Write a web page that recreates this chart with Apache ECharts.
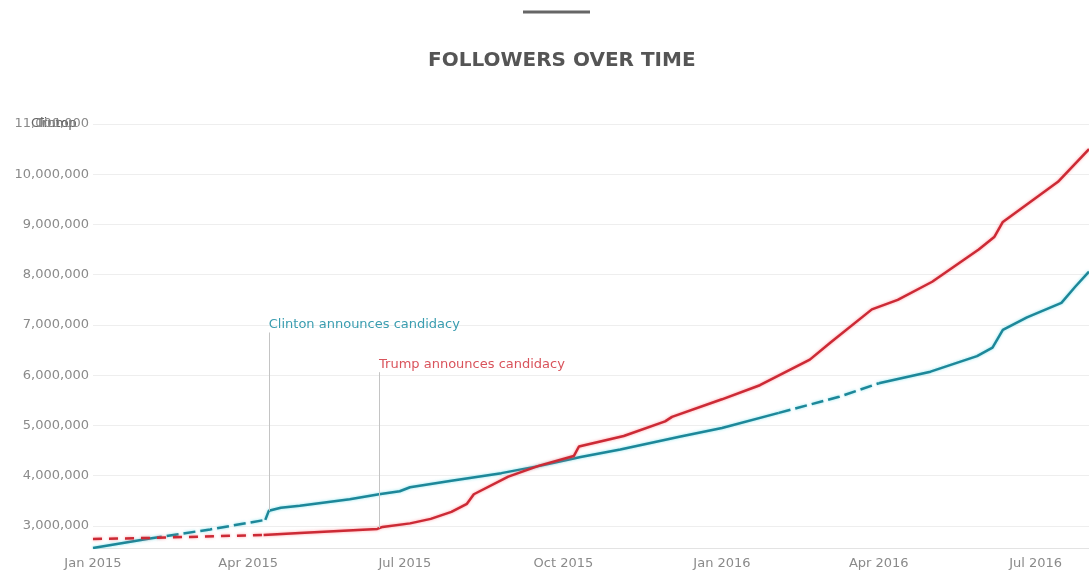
<!DOCTYPE html>
<html>
<head>
<meta charset="utf-8">
<title>Followers over time</title>
<script src="https://cdn.jsdelivr.net/npm/echarts@6/dist/echarts.min.js"></script>
<style>
  html, body { margin: 0; padding: 0; background: #fff; }
  #chart { width: 1089px; height: 575px; }
</style>
</head>
<body>
<div id="chart"></div>
<script>
/** followers chart start */

// Clinton followers
var clintonDates = [
    '2015-01-01', '2015-02-03', '2015-03-10', '2015-04-11', '2015-04-13', '2015-04-20',
    '2015-05-01', '2015-05-30', '2015-06-16', '2015-06-28', '2015-07-04', '2015-07-28',
    '2015-08-26', '2015-09-18', '2015-10-11', '2015-11-03', '2015-12-08', '2016-01-01',
    '2016-02-03', '2016-03-09', '2016-04-01', '2016-05-01', '2016-05-28', '2016-06-06',
    '2016-06-12', '2016-06-26', '2016-07-16', '2016-07-24', '2016-08-01'
];
var clintonValues = [
    2560000, 2750000, 2930000, 3120000, 3300000, 3360000,
    3400000, 3530000, 3630000, 3690000, 3770000, 3900000,
    4050000, 4200000, 4370000, 4520000, 4780000, 4950000,
    5250000, 5570000, 5840000, 6070000, 6380000, 6550000,
    6900000, 7150000, 7440000, 7760000, 8060000
];
// stretches where the Clinton line is drawn broken
var clintonGaps = [['2015-02-03', '2015-04-11'], ['2016-02-03', '2016-04-01']];

// Trump followers
var trumpDates = [
    '2015-01-01', '2015-02-03', '2015-04-10', '2015-05-01', '2015-06-15', '2015-06-18',
    '2015-07-04', '2015-07-16', '2015-07-28', '2015-08-06', '2015-08-10', '2015-08-30',
    '2015-09-17', '2015-10-07', '2015-10-10', '2015-11-05', '2015-11-29', '2015-12-03',
    '2016-01-01', '2016-01-23', '2016-02-21', '2016-03-04', '2016-03-28', '2016-04-12',
    '2016-05-02', '2016-05-29', '2016-06-07', '2016-06-12', '2016-07-14', '2016-08-01'
];
var trumpValues = [
    2740000, 2760000, 2820000, 2860000, 2940000, 2980000,
    3050000, 3140000, 3280000, 3440000, 3630000, 3980000,
    4200000, 4390000, 4580000, 4790000, 5080000, 5170000,
    5520000, 5800000, 6310000, 6650000, 7310000, 7500000,
    7860000, 8500000, 8750000, 9050000, 9850000, 10500000
];
var trumpGaps = [['2015-01-01', '2015-04-10']];

// annotations: date, value on line, top of the marker line
var clintonEvent = ['2015-04-13', 3300000, 6850000];
var trumpEvent = ['2015-06-16', 2960000, 6060000];

var tickLabels = ['2015-01-01', '2015-04-01', '2015-07-01', '2015-10-01', '2016-01-01', '2016-04-01', '2016-07-01'];
var monthNames = ['Jan', 'Feb', 'Mar', 'Apr', 'May', 'Jun', 'Jul', 'Aug', 'Sep', 'Oct', 'Nov', 'Dec'];

var xMin = '2015-01-01';
var xMax = '2016-08-01';

function toTime(s) {
    return +echarts.time.parse(s);
}

/**
 * 按区间拆分数据
 * @param dates
 * @param values
 * @param gaps   断开的区间
 * @param inside true 取区间内的点, false 取区间外的点
 */
function pick(dates, values, gaps, inside) {
    return dates.map(function (d, i) {
        var t = toTime(d);
        var keep = !inside;
        gaps.forEach(function (g) {
            var a = toTime(g[0]), b = toTime(g[1]);
            if (inside && t >= a && t <= b) keep = true;
            if (!inside && t > a && t < b) keep = false;
            // the first point of a gap at the very start is not solid either
            if (!inside && t === a && i === 0) keep = false;
        });
        return [t, keep ? values[i] : null];
    });
}

function eventLine(ev, text, color) {
    return {
        silent: true,
        symbol: 'none',
        animation: false,
        lineStyle: { color: '#c4c4c4', width: 1, type: 'solid' },
        label: {
            show: true,
            position: 'end',
            align: 'left',
            distance: 1,
            color: color,
            fontSize: 13,
            fontFamily: 'DejaVu Sans',
            formatter: text
        },
        data: [[
            { coord: [toTime(ev[0]), ev[1]] },
            { coord: [toTime(ev[0]), ev[2]] }
        ]]
    };
}

function lineSeries(name, color, glow, data, dash, z) {
    return {
        name: name,
        type: 'line',
        showSymbol: false,
        connectNulls: false,
        z: z,
        lineStyle: {
            color: color,
            width: 2.5,
            type: dash || 'solid',
            shadowColor: glow,
            shadowBlur: 3
        },
        itemStyle: { color: color },
        data: data
    };
}

var labelFont = 'DejaVu Sans';
var clintonColor = '#1d8799';
var clintonGlow = 'rgba(60,210,225,0.6)';
var trumpColor = '#cc2a35';
var trumpGlow = 'rgba(255,90,100,0.6)';

var clintonSolid = lineSeries('Clinton', clintonColor, clintonGlow,
    pick(clintonDates, clintonValues, clintonGaps, false), null, 3);
clintonSolid.markLine = eventLine(clintonEvent, 'Clinton announces candidacy', '#3a9db0');

var trumpSolid = lineSeries('Trump', trumpColor, trumpGlow,
    pick(trumpDates, trumpValues, trumpGaps, false), null, 4);
trumpSolid.markLine = eventLine(trumpEvent, 'Trump announces candidacy', '#d9545c');

var option = {
    backgroundColor: '#fff',
    animation: false,
    title: {
        text: 'FOLLOWERS OVER TIME',
        left: 423,
        top: 46,
        textStyle: {
            color: '#555',
            fontSize: 20,
            fontWeight: 'bold',
            fontFamily: labelFont
        }
    },
    graphic: [
        {
            type: 'line',
            shape: { x1: 523, y1: 12, x2: 590, y2: 12 },
            style: { stroke: '#666', lineWidth: 3 }
        },
        {
            type: 'text',
            left: 31,
            top: 117,
            style: { text: 'Clinton', fill: '#666', font: '13px DejaVu Sans' }
        },
        {
            type: 'text',
            left: 36,
            top: 117,
            style: { text: 'Trump', fill: '#666', font: '13px DejaVu Sans' }
        }
    ],
    grid: {
        left: 93,
        right: 0,
        top: 124,
        bottom: 27
    },
    xAxis: {
        type: 'value',
        min: toTime(xMin),
        max: toTime(xMax),
        axisLine: { show: true, lineStyle: { color: '#e3e3e3' } },
        axisTick: { show: false },
        splitLine: { show: false },
        axisLabel: {
            customValues: tickLabels.map(toTime),
            color: '#8a8a8a',
            fontSize: 13,
            fontFamily: labelFont,
            margin: 9,
            hideOverlap: false,
            formatter: function (v) {
                var d = new Date(v);
                return monthNames[d.getMonth()] + ' ' + d.getFullYear();
            }
        }
    },
    yAxis: {
        type: 'value',
        min: 2560000,
        max: 11000000,
        splitNumber: 8,
        axisLine: { show: false },
        axisTick: { show: false },
        splitLine: { lineStyle: { color: '#eeeeee' } },
        axisLabel: {
            showMinLabel: false,
            color: '#8a8a8a',
            fontSize: 13,
            fontFamily: labelFont,
            margin: 4,
            formatter: function (v) {
                return v.toLocaleString('en-US');
            }
        }
    },
    series: [
        clintonSolid,
        lineSeries('Clinton', clintonColor, clintonGlow,
            pick(clintonDates, clintonValues, clintonGaps, true), [12, 5], 3),
        trumpSolid,
        lineSeries('Trump', trumpColor, trumpGlow,
            pick(trumpDates, trumpValues, trumpGaps, true), [9, 7], 4)
    ]
};

var myChart = echarts.init(document.getElementById('chart'));
myChart.setOption(option);

/** followers chart end */
</script>
</body>
</html>
